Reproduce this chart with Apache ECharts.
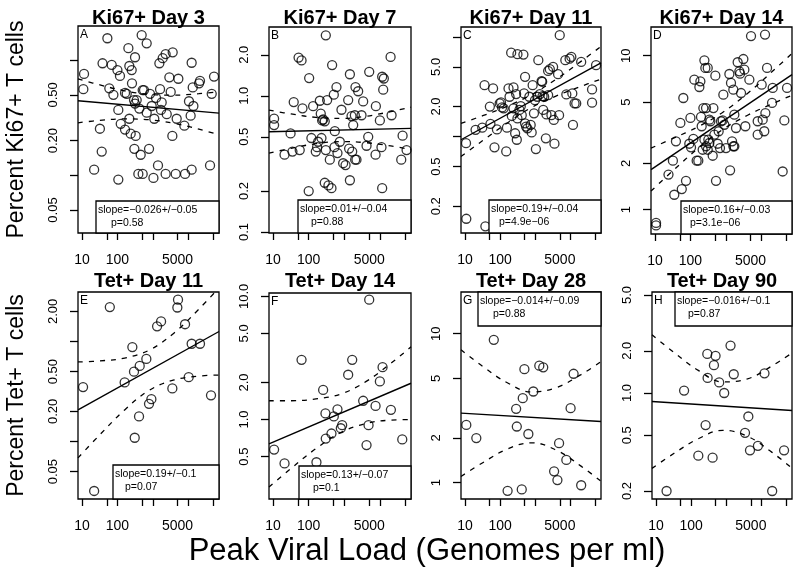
<!DOCTYPE html>
<html><head><meta charset="utf-8">
<script src="https://cdn.jsdelivr.net/npm/echarts@6/dist/echarts.min.js"></script>
<style>html,body{margin:0;padding:0;background:#fff}#c{width:800px;height:571px}</style>
</head><body><div id="c"></div>
<script>
// ---------------- DATA ----------------
const xTicks = [10, 50, 100, 500, 1000, 5000, 10000, 50000];
const xTickLabels = [10, 100, 5000];
const xRange = [7.7, 74000];
const fitLoad = [7.7, 74000];
const bandLoad = [7.7, 32, 160, 790, 4000, 20000, 74000];

// Panel A: Ki67+ Day 3
const loadA = [11.4,10.9,52,38,69,100,118,59,77,32,36,22,106,204,314,217,253,258,484,671,164,183,294,314,517,564,833,1600,1530,1900,2300,3640,2930,5260,3200,1230,929,1780,1700,1100,671,417,350,106,217,124,164,237,328,301,454,782,2470,4720,3560,7780,11700,12500,20200,21500,13400,10500,14000,53600,46100,1400,390,517,1040,2300,4430,8130,12500,41300];
const pctA = [0.76,0.56,1.55,0.94,0.91,0.82,0.73,0.57,0.50,0.254,0.161,0.112,0.092,1.27,1.06,0.89,0.82,0.63,1.65,1.40,0.52,0.51,0.45,0.42,0.55,0.55,0.51,0.56,0.94,1.04,1.13,1.17,0.71,0.69,0.53,0.47,0.40,0.43,0.37,0.31,0.35,0.38,0.45,0.37,0.31,0.28,0.25,0.23,0.22,0.17,0.151,0.17,0.34,0.31,0.22,0.27,0.33,0.95,0.63,0.66,0.58,0.44,0.40,0.72,0.51,0.122,0.103,0.103,0.095,0.103,0.103,0.103,0.112,0.122];
const fitA = [0.444, 0.347];
const upperA = [0.687,0.61,0.542,0.505,0.497,0.512,0.533];
const lowerA = [0.286,0.30,0.309,0.304,0.283,0.252,0.225];
const yRangeA = [0.0316, 1.98];
const yTicksA = [0.05,0.1,0.2,0.5,1];
const yLabelsA = [0.05,0.2,0.5];
const statA = ['slope=\u22120.026+/\u22120.05', 'p=0.58'];

// Panel B: Ki67+ Day 7
const loadB = [10.7,10.7,21,31,35,38,52,63,56,67,103,100,119,133,158,172,184,205,218,228,238,254,282,302,329,302,282,358,435,454,506,540,528,601,641,391,746,830,925,1080,1280,1360,1430,1430,1590,1660,1770,1970,2050,2190,2010,2440,3030,3370,4190,4670,4980,7500,7660,9910,11000,11500,12800,12300,11500,19800,21100,39400,43000,55600];
const pctB = [0.68,0.61,0.37,0.53,0.39,0.90,1.91,1.82,0.40,0.81,1.35,0.20,0.49,0.84,0.39,0.42,0.46,0.92,0.74,0.49,0.66,0.67,0.65,2.78,0.93,0.40,0.23,0.22,0.21,1.68,1.02,0.55,0.42,1.16,0.38,0.34,0.46,0.79,0.32,0.31,0.93,0.41,1.44,0.24,0.71,0.39,0.61,0.72,1.16,0.34,0.34,1.08,0.72,0.91,0.43,0.50,1.50,0.37,0.84,0.66,0.42,1.38,1.34,1.11,0.21,1.93,0.72,0.34,0.51,0.40];
const fitB = [0.545, 0.577];
const upperB = [0.785,0.736,0.695,0.682,0.708,0.765,0.826];
const lowerB = [0.379,0.412,0.445,0.461,0.453,0.429,0.403];
const yRangeB = [0.0984, 3.2];
const yTicksB = [0.1,0.2,0.5,1,2];
const yLabelsB = [0.1,0.2,0.5,1,2];
const statB = ['slope=0.01+/\u22120.04', 'p=0.88'];

// Panel C: Ki67+ Day 11
const loadC = [10.7,10.9,20,31,36,53,63,69,81,51,97,106,113,126,149,156,173,185,206,215,240,240,267,285,298,311,459,311,354,386,412,480,512,512,546,596,678,739,789,841,917,979,1040,1140,1220,1350,1510,1570,1610,1680,1790,2000,2080,2320,2320,2590,2880,3210,3360,3510,4450,4750,4960,7150,7640,9480,10600,11300,11800,13100,14600,20200,41200,41200,53500,38];
const pctC = [0.86,0.15,1.17,1.23,3.28,1.34,3.04,0.78,1.18,2.0,2.15,2.2,1.96,1.92,0.71,1.23,3.04,2.51,6.95,1.61,3.11,1.92,1.08,2.67,0.93,6.7,6.64,1.52,1.85,2.02,1.64,2.71,3.98,1.36,1.26,1.21,2.51,1.31,1.10,3.28,1.71,2.32,0.75,2.51,5.84,2.67,3.6,3.55,2.55,1.85,2.51,0.96,1.67,2.61,4.56,4.74,1.64,5.0,1.47,0.85,4.23,1.64,10.4,5.84,2.65,6.05,6.3,2.71,1.31,2.15,2.15,5.61,2.19,2.97,5.2,0.126];
const fitC = [0.93, 5.5];
const upperC = [1.36,1.62,2.02,2.64,3.78,5.68,8.02];
const lowerC = [0.632,0.912,1.37,1.96,2.56,3.19,3.77];
const yRangeC = [0.108, 12.56];
const yTicksC = [0.2,0.5,1,2,5,10];
const yLabelsC = [0.2,0.5,2,5];
const statC = ['slope=0.19+/\u22120.04', 'p=4.9e\u221206'];

// Panel D: Ki67+ Day 14
const loadD = [10.7,10.7,24,32,35,39,52,57,63,75,93,100,104,121,129,150,167,179,191,199,208,222,232,248,248,264,276,276,308,308,321,343,343,366,426,445,474,506,528,589,628,685,731,815,851,909,1010,1260,1320,1400,1500,1630,1630,1740,1740,1940,2160,2410,2520,2690,3130,3340,3560,4620,5150,7940,7940,10300,11000,12200,12800,13100,14600,20200,21100,40300,45000,53600];
const pctD = [0.82,0.79,1.69,2.08,1.25,2.78,3.66,1.36,5.31,1.54,2.68,3.94,2.54,2.88,6.98,2.08,2.08,6.26,6.81,4.0,3.48,2.45,4.57,2.85,9.33,8.32,4.57,2.58,8.32,2.45,2.85,2.71,3.84,3.75,2.24,4.57,3.07,7.41,1.54,2.68,3.23,2.51,3.75,3.8,5.58,3.56,2.51,7.6,1.8,6.65,2.78,2.58,6.01,2.58,4.14,3.39,9.06,7.91,7.64,5.72,9.51,8.11,3.48,6.98,13.4,3.07,3.75,6.48,3.84,3.23,13.7,4.24,8.32,4.93,6.17,1.77,3.8,6.17];
const fitD = [1.82, 7.53];
const upperD = [2.51,2.9,3.44,4.26,5.66,7.85,10.35];
const lowerD = [1.32,1.79,2.49,3.30,4.09,4.86,5.53];
const yRangeD = [0.695, 15.35];
const yTicksD = [1,2,5,10];
const yLabelsD = [1,2,5,10];
const statD = ['slope=0.16+/\u22120.03', 'p=3.1e\u221206'];

// Panel E: Tet+ Day 11
const loadE = [10.7,22,61,160,264,294,308,408,426,656,781,910,1320,1710,3560,4930,5150,8130,10300,12500,21500,44000];
const pctE = [0.35,0.032,2.21,0.39,0.88,0.50,0.109,0.178,0.57,0.67,0.238,0.265,1.42,1.59,0.34,2.19,2.62,1.49,0.44,0.95,0.95,0.29];
const fitE = [0.207, 1.26];
const upperE = [0.625,0.64,0.684,0.82,1.22,2.11,3.44];
const lowerE = [0.0686,0.117,0.207,0.325,0.413,0.451,0.462];
const yRangeE = [0.0266, 3.13];
const yTicksE = [0.05,0.1,0.2,0.5,1,2];
const yLabelsE = [0.05,0.2,0.5,2];
const statE = ['slope=0.19+/\u22120.1', 'p=0.07'];

// Panel F: Tet+ Day 14
const loadF = [10.7,21,63,165,254,295,301,435,506,641,796,868,1280,1660,3370,4190,4770,4980,7500,9910,11800,20200,42100];
const pctF = [0.57,0.44,3.05,0.45,1.74,1.12,0.70,0.77,1.06,1.21,0.85,0.90,2.31,3.05,1.42,0.62,0.90,9.4,1.29,2.04,2.66,1.20,0.69];
const fitF = [0.634, 1.97];
const upperF = [1.42,1.42,1.47,1.61,2.03,2.85,3.89];
const lowerF = [0.283,0.401,0.581,0.783,0.929,0.989,1.0];
const yRangeF = [0.2265, 10.64];
const yTicksF = [0.5,1,2,5,10];
const yLabelsF = [0.5,1,2,5,10];
const statF = ['slope=0.13+/\u22120.07', 'p=0.1'];

// Panel G: Tet+ Day 28
const loadG = [10.9,21,66,163,285,298,412,440,490,635,879,1300,1680,3430,4260,4750,7640,10100,12300,20200];
const pctG = [2.44,1.99,9.1,0.88,3.13,2.38,0.90,3.69,5.78,2.12,4.09,6.1,5.94,1.19,1.04,1.84,1.42,3.16,5.38,0.96];
const fitG = [2.93, 2.57];
const upperG = [7.8,6.03,4.68,4.06,4.35,5.31,6.49];
const lowerG = [1.10,1.36,1.68,1.85,1.65,1.29,1.02];
const yRangeG = [0.776, 19.05];
const yTicksG = [1,2,5,10];
const yLabelsG = [1,2,5,10];
const statG = ['slope=\u22120.014+/\u22120.09', 'p=0.88'];

// Panel H: Tet+ Day 90
const loadH = [20,63,160,258,288,294,408,445,495,628,871,1320,1630,3410,4240,4720,7940,12200,20200,44000];
const pctH = [0.20,1.04,0.357,0.59,1.90,1.28,0.346,1.58,1.84,1.19,1.0,2.18,1.36,0.52,0.68,0.39,0.42,1.38,0.20,0.39];
const fitH = [0.87, 0.75];
const upperH = [2.60,1.95,1.45,1.20,1.26,1.56,1.93];
const lowerH = [0.29,0.37,0.472,0.542,0.491,0.377,0.291];
const yRangeH = [0.1754, 5.25];
const yTicksH = [0.2,0.5,1,2,5];
const yLabelsH = [0.2,0.5,1,2,5];
const statH = ['slope=\u22120.016+/\u22120.1', 'p=0.87'];

const titles = ['Ki67+ Day 3','Ki67+ Day 7','Ki67+ Day 11','Ki67+ Day 14','Tet+ Day 11','Tet+ Day 14','Tet+ Day 28','Tet+ Day 90'];
const letters = ['A','B','C','D','E','F','G','H'];
const yTitles = ['Percent Ki67+ T cells', 'Percent Tet+ T cells'];
const xTitle = 'Peak Viral Load (Genomes per ml)';

const panels = [
  {load:loadA, pct:pctA, fit:fitA, up:upperA, lo:lowerA, yr:yRangeA, yt:yTicksA, yl:yLabelsA, dec:2, stat:statA},
  {load:loadB, pct:pctB, fit:fitB, up:upperB, lo:lowerB, yr:yRangeB, yt:yTicksB, yl:yLabelsB, dec:1, stat:statB},
  {load:loadC, pct:pctC, fit:fitC, up:upperC, lo:lowerC, yr:yRangeC, yt:yTicksC, yl:yLabelsC, dec:1, stat:statC},
  {load:loadD, pct:pctD, fit:fitD, up:upperD, lo:lowerD, yr:yRangeD, yt:yTicksD, yl:yLabelsD, dec:0, stat:statD},
  {load:loadE, pct:pctE, fit:fitE, up:upperE, lo:lowerE, yr:yRangeE, yt:yTicksE, yl:yLabelsE, dec:2, stat:statE},
  {load:loadF, pct:pctF, fit:fitF, up:upperF, lo:lowerF, yr:yRangeF, yt:yTicksF, yl:yLabelsF, dec:1, stat:statF},
  {load:loadG, pct:pctG, fit:fitG, up:upperG, lo:lowerG, yr:yRangeG, yt:yTicksG, yl:yLabelsG, dec:0, stat:statG},
  {load:loadH, pct:pctH, fit:fitH, up:upperH, lo:lowerH, yr:yRangeH, yt:yTicksH, yl:yLabelsH, dec:1, stat:statH}
];

// ---------------- LAYOUT ----------------
const layout = [
  {left:78,  top:26,  width:141, height:207, statX:96,  statTop:201, indent:13, titleY:18.5},
  {left:269, top:27,  width:142, height:206, statX:298, statTop:200, indent:11, titleY:18.5},
  {left:461, top:27,  width:140, height:206, statX:489, statTop:200, indent:8,  titleY:18.5},
  {left:651, top:27,  width:141, height:207, statX:681, statTop:201, indent:7,  titleY:18.5},
  {left:78,  top:292, width:141, height:207, statX:113, statTop:465, indent:10, titleY:281},
  {left:269, top:293, width:142, height:206, statX:299, statTop:466, indent:12, titleY:281},
  {left:461, top:292, width:140, height:207, statX:478, statTop:292, statH:34, indent:13, titleY:281},
  {left:652, top:292, width:140, height:207, statX:675, statTop:292, statH:34, indent:11, titleY:281}
];

const FONT = '"Liberation Sans", Arial, Helvetica, sans-serif';
const L10 = Math.log10;
const grid = [], xAxis = [], yAxis = [], series = [], graphic = [];

panels.forEach((p, i) => {
  const g = layout[i];
  grid.push({left:g.left, top:g.top, width:g.width, height:g.height, show:true,
             borderColor:'#000', borderWidth:1.3, backgroundColor:'transparent'});
  xAxis.push({
    type:'value', gridIndex:i, position:'bottom', min:L10(xRange[0]), max:L10(xRange[1]),
    axisLine:{show:false, onZero:false}, splitLine:{show:false},
    axisTick:{show:true, length:7, lineStyle:{color:'#000', width:1.3}, customValues:xTicks.map(L10)},
    axisLabel:{show:true, customValues:xTickLabels.map(L10), margin:20, fontSize:14, color:'#000', fontFamily:FONT,
               formatter:v => String(Math.round(Math.pow(10, v)))}
  });
  const dec = p.dec;
  const ya = {
    type:'value', gridIndex:i, position:'left', min:L10(p.yr[0]), max:L10(p.yr[1]),
    axisLine:{show:false, onZero:false}, splitLine:{show:false},
    axisTick:{show:true, length:8, lineStyle:{color:'#000', width:1.3}, customValues:p.yt.map(L10)},
    axisLabel:{show:true, customValues:p.yl.map(L10), rotate:90, margin:18, fontSize:13, color:'#000', fontFamily:FONT,
               formatter:v => Math.pow(10, v).toFixed(dec)}
  };
  if (i === 0 || i === 4) {
    ya.name = yTitles[i === 0 ? 0 : 1];
    ya.nameLocation = 'middle';
    ya.nameGap = 50;
    ya.nameTextStyle = {fontSize:23, color:'#000', fontFamily:FONT};
  }
  yAxis.push(ya);

  series.push({
    type:'scatter', xAxisIndex:i, yAxisIndex:i, symbol:'circle', symbolSize:9,
    itemStyle:{color:'rgba(0,0,0,0)', borderColor:'#000', borderWidth:1.3},
    data:p.load.map((x, k) => [L10(x), L10(p.pct[k])]), z:3
  });
  series.push({
    type:'line', xAxisIndex:i, yAxisIndex:i, showSymbol:false, symbol:'none',
    lineStyle:{color:'#000', width:1.4}, data:fitLoad.map((x, k) => [L10(x), L10(p.fit[k])]), z:2
  });
  [p.up, p.lo].forEach(arr => {
    series.push({
      type:'line', xAxisIndex:i, yAxisIndex:i, showSymbol:false, symbol:'none', smooth:0.4,
      lineStyle:{color:'#000', width:1.3, type:[5,6]}, data:bandLoad.map((x, k) => [L10(x), L10(arr[k])]), z:2
    });
  });

  // panel title
  graphic.push({type:'text', x:g.left + g.width / 2, y:g.titleY, z:10,
    style:{text:titles[i], fill:'#000', font:'bold 20px ' + FONT, align:'center', verticalAlign:'middle'}});
  // panel letter
  graphic.push({type:'text', x:g.left + 2, y:g.top + 9, z:10,
    style:{text:letters[i], fill:'#000', font:'12px ' + FONT, align:'left', verticalAlign:'middle'}});
  // stats box
  const right = g.left + g.width;
  const h = g.statH || (g.top + g.height - g.statTop);
  graphic.push({type:'rect', z:20, shape:{x:g.statX, y:g.statTop, width:right - g.statX, height:h},
    style:{fill:'#fff', stroke:'#000', lineWidth:1.3}});
  graphic.push({type:'text', z:21, x:g.statX + 2, y:g.statTop + 9,
    style:{text:p.stat[0], fill:'#000', font:'10.5px ' + FONT, align:'left', verticalAlign:'middle'}});
  graphic.push({type:'text', z:21, x:g.statX + 2 + g.indent, y:g.statTop + 22,
    style:{text:p.stat[1], fill:'#000', font:'10.5px ' + FONT, align:'left', verticalAlign:'middle'}});
});

graphic.push({type:'text', x:427, y:551, z:10,
  style:{text:xTitle, fill:'#000', font:'31px ' + FONT, align:'center', verticalAlign:'middle'}});

const chart = echarts.init(document.getElementById('c'), null, {renderer:'canvas'});
chart.setOption({
  animation:false, backgroundColor:'#fff',
  grid, xAxis, yAxis, series, graphic
});
</script></body></html>
